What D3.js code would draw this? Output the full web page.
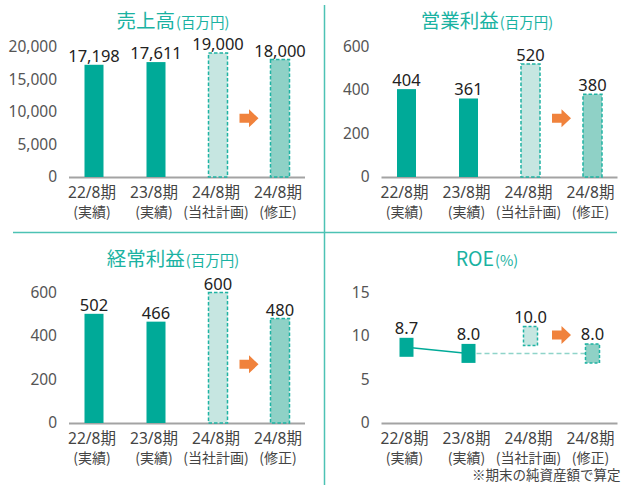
<!DOCTYPE html>
<html>
<head>
<meta charset="utf-8">
<script src="https://cdn.jsdelivr.net/npm/d3@7"></script>
<style>
  body { margin: 0; background: #fff; }
  svg { display: block; font-family: "Noto Sans", "Noto Sans CJK JP", sans-serif; }
</style>
</head>
<body>
<div id="container"></div>
<script>
// data
const periods = ["22/8期", "23/8期", "24/8期", "24/8期"];
const periodNotes = ["(実績)", "(実績)", "(当社計画)", "(修正)"];
const kinds = ["actual", "actual", "plan", "revised"];

const sales = [17198, 17611, 19000, 18000];
const salesTicks = [0, 5000, 10000, 15000, 20000];
const opProfit = [404, 361, 520, 380];
const opTicks = [0, 200, 400, 600];
const ordProfit = [502, 466, 600, 480];
const ordTicks = [0, 200, 400, 600];
const roe = [8.7, 8.0, 10.0, 8.0];
const roeTicks = [0, 5, 10, 15];

const teal = "#00aa98";
const titleColor = "#1ab2a2";
const planFill = "#c6e6e1";
const revFill = "#8fd1c6";
const dashStroke = "#1fb3a3";
const orange = "#f0823c";
const cjk = "'Noto Sans CJK JP', sans-serif";

const svg = d3.select("#container").append("svg")
  .attr("width", 621)
  .attr("height", 485);

// dividers
svg.append("line").attr("x1", 324.5).attr("x2", 324.5).attr("y1", 5).attr("y2", 485)
  .attr("stroke", "#4cc2b4").attr("stroke-width", 1.5);
svg.append("line").attr("x1", 13).attr("x2", 617).attr("y1", 232.5).attr("y2", 232.5)
  .attr("stroke", "#4cc2b4").attr("stroke-width", 1.5);

function panel(opt) {
  const g = svg.append("g");
  const x = d3.scaleBand().domain(d3.range(4)).range([opt.x0, opt.x0 + 248]).paddingInner(0);
  const y = d3.scaleLinear().domain([0, d3.max(opt.ticks)]).range([opt.base, opt.base - 130.5]);
  const cx = i => x(i) + x.bandwidth() / 2;

  // title
  const t = g.append("text")
    .attr("x", opt.titleX).attr("y", opt.titleY)
    .attr("text-anchor", "middle")
    .attr("font-family", cjk)
    .attr("fill", titleColor);
  t.append("tspan").attr("font-size", 19.5).text(opt.title);
  t.append("tspan").attr("font-size", 14.5).attr("dx", 1).text(opt.unit);

  // y axis (labels only)
  const yAxis = d3.axisLeft(y).tickValues(opt.ticks).tickSize(0).tickPadding(0)
    .tickFormat(opt.fmt || d3.format(","));
  const ya = g.append("g").attr("transform", `translate(${opt.x0 - 6},0)`).call(yAxis);
  ya.select(".domain").remove();
  ya.selectAll("text").attr("font-size", 15.5).attr("fill", "#555")
    .attr("font-family", "'Noto Sans', sans-serif");

  // baseline
  g.append("line").attr("x1", opt.x0 + 6).attr("x2", opt.x0 + 242)
    .attr("y1", y(0) + 0.5).attr("y2", y(0) + 0.5)
    .attr("stroke", "#a3a3a3").attr("stroke-width", 2);

  // category labels
  const cat = g.selectAll(".cat").data(periods).enter().append("text")
    .attr("text-anchor", "middle").attr("fill", "#444");
  cat.append("tspan").attr("x", (d, i) => cx(i) - 2).attr("y", opt.base + 21)
    .attr("font-size", 15.5).text(d => d);
  cat.append("tspan").attr("x", (d, i) => cx(i) - 2).attr("y", opt.base + 39.5)
    .attr("font-size", 14).attr("font-family", cjk).text((d, i) => periodNotes[i]);

  if (opt.type === "bar") {
    const bw = 19;
    g.selectAll(".bar").data(opt.values).enter().append("rect")
      .attr("x", (d, i) => cx(i) - bw / 2)
      .attr("width", bw)
      .attr("y", d => y(d))
      .attr("height", d => y(0) - y(d))
      .attr("fill", (d, i) => kinds[i] === "actual" ? teal : kinds[i] === "plan" ? planFill : revFill)
      .attr("stroke", (d, i) => kinds[i] === "actual" ? "none" : dashStroke)
      .attr("stroke-width", 1.5)
      .attr("stroke-dasharray", "3.5,2");
    g.selectAll(".val").data(opt.values).enter().append("text")
      .attr("x", (d, i) => cx(i))
      .attr("y", d => y(d) - 3)
      .attr("text-anchor", "middle")
      .attr("font-size", 16.5)
      .attr("fill", "#222")
      .text(d => d3.format(",")(d));
    arrow(g, (cx(2) + cx(3)) / 2, y(d3.max(opt.ticks) * 0.45));
  } else {
    const mw = 14, mh = 19;
    const line = d3.line().x((d, i) => cx(i)).y(d => y(d));
    g.append("path").datum(opt.values.slice(0, 2))
      .attr("d", line).attr("fill", "none").attr("stroke", teal).attr("stroke-width", 1.5);
    g.append("path")
      .attr("d", d3.line()([[cx(1), y(opt.values[1])], [cx(3), y(opt.values[3])]]))
      .attr("fill", "none").attr("stroke", "#8fd4c9").attr("stroke-width", 1.5)
      .attr("stroke-dasharray", "5,3");
    g.selectAll(".mk").data(opt.values).enter().append("rect")
      .attr("x", (d, i) => cx(i) - mw / 2)
      .attr("y", d => y(d) - mh / 2)
      .attr("width", mw).attr("height", mh)
      .attr("fill", (d, i) => kinds[i] === "actual" ? teal : kinds[i] === "plan" ? planFill : revFill)
      .attr("stroke", (d, i) => kinds[i] === "actual" ? "none" : dashStroke)
      .attr("stroke-width", 1.5)
      .attr("stroke-dasharray", "3,2");
    g.selectAll(".val").data(opt.values).enter().append("text")
      .attr("x", (d, i) => cx(i))
      .attr("y", d => y(d) - mh / 2 - 4)
      .attr("text-anchor", "middle")
      .attr("font-size", 16.5)
      .attr("fill", "#222")
      .text(d => d3.format(".1f")(d));
    arrow(g, (cx(2) + cx(3)) / 2, y(10) - 1);
  }
}

function arrow(g, x, y) {
  g.append("path")
    .attr("transform", `translate(${x},${y})`)
    .attr("d", "M-9.5,-4.5 L0,-4.5 L0,-9 L9.5,0 L0,9 L0,4.5 L-9.5,4.5 Z")
    .attr("fill", orange);
}

panel({ x0: 63, base: 177, titleY: 28, title: "売上高", unit: "(百万円)", titleX: 173, values: sales, ticks: salesTicks, type: "bar" });
panel({ x0: 375.5, base: 177, titleY: 28, title: "営業利益", unit: "(百万円)", titleX: 487, values: opProfit, ticks: opTicks, type: "bar" });
panel({ x0: 63, base: 423, titleY: 266, title: "経常利益", unit: "(百万円)", titleX: 173, values: ordProfit, ticks: ordTicks, type: "bar" });
panel({ x0: 375.5, base: 423, titleY: 266, title: "ROE", unit: "(%)", titleX: 487, values: roe, ticks: roeTicks, type: "line", fmt: d3.format("d") });

svg.append("text").attr("x", 472).attr("y", 480)
  .attr("font-size", 13.5).attr("fill", "#444")
  .attr("font-family", cjk)
  .text("※期末の純資産額で算定");
</script>
</body>
</html>
